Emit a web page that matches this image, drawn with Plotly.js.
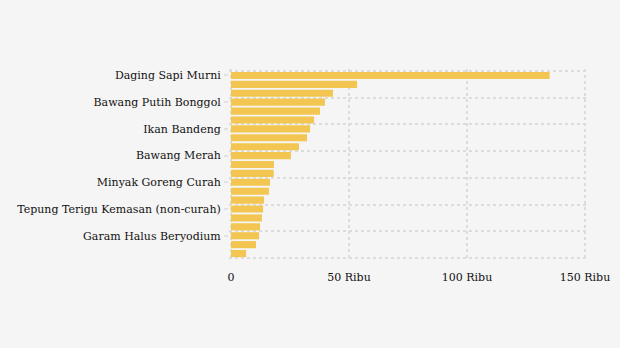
<!DOCTYPE html>
<html>
<head>
<meta charset="utf-8">
<script src="https://cdn.plot.ly/plotly-3.0.1.min.js"></script>
<style>html,body{margin:0;padding:0;background:#f5f5f5;}</style>
</head>
<body>
<div id="chart" style="width:620px;height:348px;"></div>
<script>
const categories = [
  "Daging Sapi Murni",
  "Cabai Rawit Merah",
  "Cabai Merah Keriting",
  "Bawang Putih Bonggol",
  "Ikan Kembung",
  "Daging Ayam Ras",
  "Ikan Bandeng",
  "Ikan Tongkol",
  "Telur Ayam Ras",
  "Bawang Merah",
  "Minyak Goreng Kemasan Sederhana",
  "Gula Konsumsi",
  "Minyak Goreng Curah",
  "Beras Premium",
  "Kedelai Biji Kering (Impor)",
  "Tepung Terigu Kemasan (non-curah)",
  "Beras Medium",
  "Beras SPHP",
  "Garam Halus Beryodium",
  "Tepung Terigu (Curah)",
  "Jagung Tingkat Peternak"
];
const values = [135000, 53400, 43200, 39800, 37700, 35200, 33500, 32200, 28800, 25400,
                18200, 18100, 16500, 16100, 14000, 13600, 13100, 12300, 11900, 10600, 6400];
const shownLabels = ["Daging Sapi Murni", "Bawang Putih Bonggol", "Ikan Bandeng", "Bawang Merah",
                     "Minyak Goreng Curah", "Tepung Terigu Kemasan (non-curah)", "Garam Halus Beryodium"];
const xTickVals = [0, 50000, 100000, 150000];
const xTickText = ["0", "50 Ribu", "100 Ribu", "150 Ribu"];

const font = {family: "DejaVu Serif", size: 11, color: "#111"};
const gridColor = "#dcdcdc";

// small padding so that the edge grid lines are drawn inside the plot area
const xPad = 847;
const yPad = 0.225;
const n = categories.length;
const yRange = [n - 0.5 + yPad, -0.5 - yPad];

const boundaryVals = [];
for (let i = -0.5; i <= n - 0.5; i += 3) boundaryVals.push(i);

const data = [
  {
    type: "bar",
    orientation: "h",
    x: values,
    y: categories,
    marker: {color: "#f2c650"},
    hoverinfo: "x+y"
  },
  {
    type: "scatter",
    x: [null],
    y: [null],
    yaxis: "y2",
    showlegend: false,
    hoverinfo: "skip"
  }
];

const layout = {
  width: 620,
  height: 348,
  margin: {l: 229, r: 33, t: 69, b: 88},
  paper_bgcolor: "#f5f5f5",
  plot_bgcolor: "#f5f5f5",
  font: font,
  showlegend: false,
  bargap: 0.2,
  xaxis: {
    range: [-xPad, 150000 + xPad],
    tickmode: "array",
    tickvals: xTickVals,
    ticktext: xTickText,
    showgrid: true,
    gridcolor: gridColor,
    gridwidth: 2,
    griddash: "dot",
    zeroline: false,
    showline: false,
    ticks: "outside",
    ticklen: 7,
    tickcolor: "rgba(0,0,0,0)",
    tickfont: font
  },
  yaxis: {
    type: "category",
    categoryorder: "array",
    categoryarray: categories,
    range: yRange,
    tickmode: "array",
    tickvals: shownLabels,
    ticktext: shownLabels,
    showgrid: false,
    zeroline: false,
    ticks: "outside",
    ticklen: 4,
    tickwidth: 2,
    tickcolor: "#e2e2e2",
    ticklabelstandoff: 1,
    tickfont: font
  },
  yaxis2: {
    overlaying: "y",
    anchor: "x",
    side: "left",
    range: yRange,
    tickmode: "array",
    tickvals: boundaryVals,
    showticklabels: false,
    showgrid: true,
    gridcolor: gridColor,
    gridwidth: 2,
    griddash: "dot",
    zeroline: false,
    ticks: ""
  }
};

Plotly.newPlot("chart", data, layout, {displayModeBar: false, staticPlot: true});
</script>
</body>
</html>
